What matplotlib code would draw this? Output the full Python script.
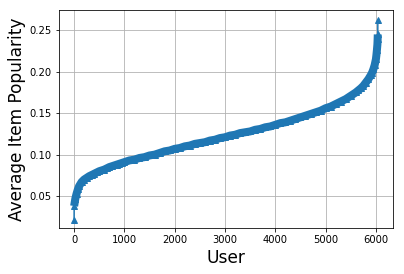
import matplotlib
matplotlib.use("Agg")
import matplotlib.pyplot as plt

# users sorted by average popularity of the items they rated
users = [0, 1, 25, 50, 75, 100, 150, 200, 250, 300, 350, 400, 450, 500, 550, 600,
         650, 700, 750, 800, 850, 900, 950,
         1000, 1100, 1200, 1300, 1400, 1500, 1600, 1700, 1800, 1900,
         2000, 2100, 2200, 2300, 2400, 2500, 2600, 2700, 2800, 2900,
         3000, 3100, 3200, 3300, 3400, 3500, 3600, 3700, 3800, 3900,
         4000, 4100, 4200, 4300, 4400, 4500, 4600, 4700, 4800, 4900,
         5000, 5100, 5200, 5300, 5400, 5500, 5600, 5650, 5700, 5750, 5800,
         5850, 5900, 5925, 5950, 5975, 6000, 6010, 6020, 6030, 6035, 6037, 6039]
popularity = [0.021, 0.038, 0.047, 0.053, 0.058, 0.062, 0.067, 0.070, 0.072, 0.074,
              0.0755, 0.077, 0.0785, 0.080, 0.081, 0.082, 0.0835, 0.085, 0.086, 0.087,
              0.088, 0.089, 0.090,
              0.091, 0.093, 0.094, 0.096, 0.097, 0.099, 0.100, 0.102, 0.104, 0.105,
              0.107, 0.108, 0.110, 0.111, 0.113, 0.114, 0.115, 0.117, 0.118, 0.120,
              0.121, 0.123, 0.124, 0.126, 0.127, 0.128, 0.130, 0.131, 0.133, 0.134,
              0.136, 0.138, 0.139, 0.141, 0.143, 0.145, 0.147, 0.149, 0.151, 0.153,
              0.156, 0.158, 0.161, 0.164, 0.167, 0.171, 0.175, 0.1775, 0.180, 0.183, 0.187,
              0.191, 0.196, 0.199, 0.203, 0.208, 0.215, 0.220, 0.226, 0.233, 0.240, 0.245, 0.262]

fig = plt.figure(figsize=(404 / 72, 274 / 72), dpi=72)
ax = fig.add_axes([59 / 404, 46 / 274, 334 / 404, 218 / 274])
# dense markers in the original merge into a thick band; the outliers stay separate
ax.plot(users[1:-1], popularity[1:-1], "-", color="#1f77b4", linewidth=8,
        solid_capstyle="butt")
ax.plot(users, popularity, "^-", color="#1f77b4", linewidth=1.5, markersize=6)
ax.set_xlim(-300, 6340)
ax.set_ylim(0.0115, 0.2745)
ax.set_xticks([0, 1000, 2000, 3000, 4000, 5000, 6000])
ax.set_yticks([0.05, 0.10, 0.15, 0.20, 0.25])
ax.tick_params(labelsize=10)
ax.grid(True, color="#b0b0b0", linewidth=0.8)
ax.set_axisbelow(True)
ax.set_xlabel("User", fontsize=17)
ax.set_ylabel("Average Item Popularity", fontsize=17)
fig.savefig("out.png", dpi=72, facecolor="white")
